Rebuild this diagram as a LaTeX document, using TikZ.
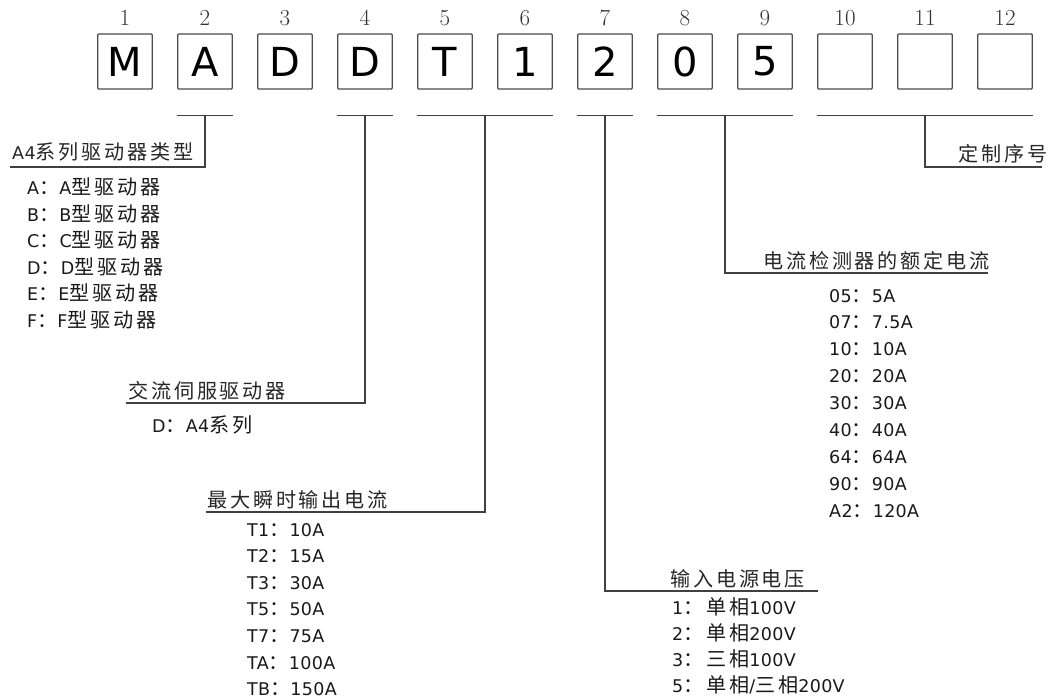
\documentclass[tikz,border=0pt]{standalone}
\usepackage{fontspec}
\usetikzlibrary{calc}
\newfontfamily\latf[LetterSpace=2]{DejaVu Sans}
\newfontfamily\cjkf[Scale=1.15,LetterSpace=14]{Noto Sans CJK SC}
\newfontfamily\boxfam{DejaVu Sans}
\XeTeXinterchartokenstate=1
\newXeTeXintercharclass\cjkcls
\newcount\cjkcnt
\cjkcnt="4E00
\loop
  \XeTeXcharclass\cjkcnt=\cjkcls
  \advance\cjkcnt by 1
\ifnum\cjkcnt<"A000 \repeat
\XeTeXcharclass"FF1A=\cjkcls
\XeTeXinterchartoks 0 \cjkcls = {\cjkf}
\XeTeXinterchartoks 4095 \cjkcls = {\cjkf}
\XeTeXinterchartoks \cjkcls 0 = {\latf}
\XeTeXinterchartoks \cjkcls 4095 = {\latf}
\begin{document}
\begin{tikzpicture}[x=1pt,y=-1pt,
  bx/.style={draw=black!70, line width=1.4pt, rounded corners=1pt, minimum width=54.5pt, minimum height=55pt, inner sep=0pt, font=\boxfam\fontsize{40}{40}\selectfont},
  num/.style={font=\fontsize{23}{24}\selectfont, inner sep=0pt, text=black!80},
  ln/.style={draw=black!75, line width=1.5pt},
  lbl/.style={font=\latf\fontsize{17.5}{20}\selectfont, anchor=base west, inner sep=0pt, text=black!85},
  itm/.style={font=\latf\fontsize{17.5}{20}\selectfont, anchor=base west, inner sep=0pt, text=black!90}]
\useasboundingbox (0,0) rectangle (1053,698);
% boxes and position numbers
\foreach \t [count=\i] in {M,A,D,D,T,1,2,0,5,{},{},{}} {
  \node[bx] (b\i) at (125+80*\i-80, 61.5) {\t};
  \node[num] (n\i) at (125+80*\i-80, 18) {\i};
}
% underlines
\coordinate (u1l) at ([yshift=-26pt]b2.south west);
\coordinate (u1r) at ([yshift=-26pt]b2.south east);
\coordinate (u2l) at ([yshift=-26pt]b4.south west);
\coordinate (u2r) at ([yshift=-26pt]b4.south east);
\coordinate (u3l) at ([yshift=-26pt]b5.south west);
\coordinate (u3r) at ([yshift=-26pt]b6.south east);
\coordinate (u4l) at ([yshift=-26pt]b7.south west);
\coordinate (u4r) at ([yshift=-26pt]b7.south east);
\coordinate (u5l) at ([yshift=-26pt]b8.south west);
\coordinate (u5r) at ([yshift=-26pt]b9.south east);
\coordinate (u6l) at ([yshift=-26pt]b10.south west);
\coordinate (u6r) at ([yshift=-26pt]b12.south east);
\foreach \g in {1,...,6} {
  \draw[ln] (u\g l) -- (u\g r);
  \coordinate (u\g m) at ($(u\g l)!0.5!(u\g r)$);
}
% ends of the connectors
\coordinate (e1) at (10,167);
\coordinate (e2) at (126,403);
\coordinate (e3) at (206,512);
\coordinate (e4) at (818,591);
\coordinate (e5) at (988,273);
\coordinate (e6) at (1042,167);
\foreach \g in {1,...,6} {
  \draw[ln] (u\g m) |- (e\g);
}
% labels
\node[lbl] (L1) at (12,160) {A4系列驱动器类型};
\node[lbl] (L2) at (128,398) {交流伺服驱动器};
\node[lbl] (L3) at (207,507) {最大瞬时输出电流};
\node[lbl] (L4) at (670,586) {输入电源电压};
\node[lbl] (L5) at (763,268) {电流检测器的额定电流};
\node[lbl] (L6) at (958,162) {定制序号};
% items
\foreach \t [count=\i] in {A：A型驱动器,B：B型驱动器,C：C型驱动器,D：D型驱动器,E：E型驱动器,F：F型驱动器}
  \node[itm] (a\i) at (27,195+26.4*\i-26.4) {\t};
\node[itm] (d1) at (152,432) {D：A4系列};
\foreach \t [count=\i] in {T1：10A,T2：15A,T3：30A,T5：50A,T7：75A,TA：100A,TB：150A}
  \node[itm] (t\i) at (247,536+26.6*\i-26.6) {\t};
\foreach \t [count=\i] in {05：5A,07：7.5A,10：10A,20：20A,30：30A,40：40A,64：64A,90：90A,A2：120A}
  \node[itm] (c\i) at (829,302+26.9*\i-26.9) {\t};
\foreach \t [count=\i] in {1：单相100V,2：单相200V,3：三相100V,5：单相/三相200V}
  \node[itm] (v\i) at (672,614+26*\i-26) {\t};
\end{tikzpicture}
\end{document}
